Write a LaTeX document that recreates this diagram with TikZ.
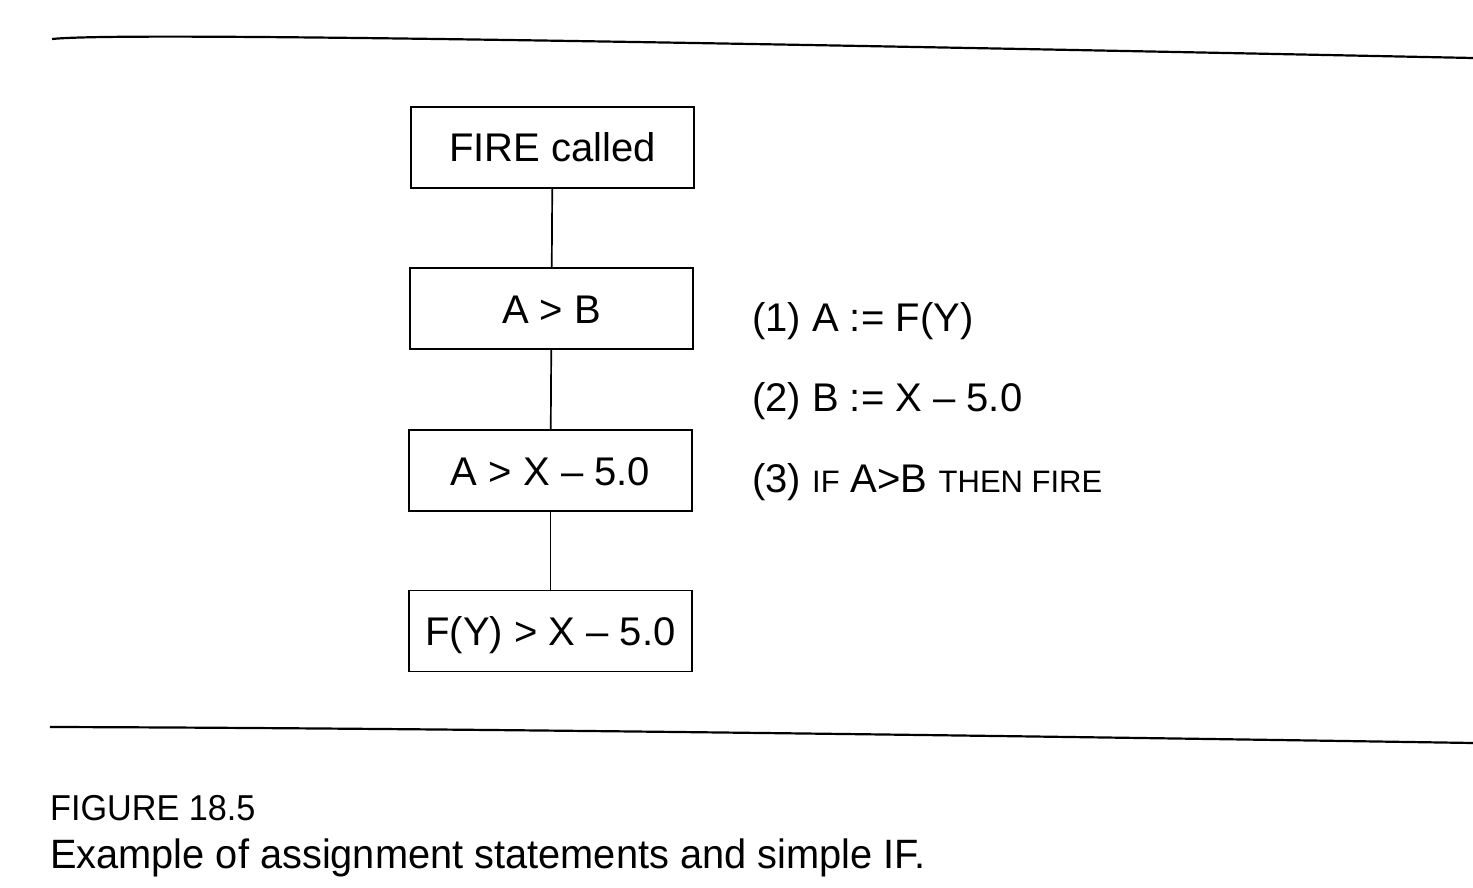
\documentclass[tikz,border=0pt]{standalone}
\usepackage{fontspec}
\setmainfont{Liberation Sans}
\newcommand\dfont{\fontsize{40}{48}\selectfont}
\newcommand\sfont{\fontsize{31}{36}\selectfont}
\newcommand\capfontA{\fontsize{36}{42}\selectfont}
\newcommand\capfontB{\fontsize{41}{46}\selectfont}
\begin{document}
\begin{tikzpicture}[x=1pt,y=-1pt,
  box/.style={draw,line width=1.9pt,minimum width=283pt,minimum height=81pt,inner sep=0pt,font=\dfont,text height=29pt,text depth=0pt},
  conn/.style={line width=1.7pt},
  rulel/.style={line width=2.2pt},
  lbl/.style={anchor=base west,inner sep=0pt,font=\dfont},
  captext/.style={anchor=base west,inner sep=0pt}]
\useasboundingbox (0,0) rectangle (1473,888);
\fill[white] (0,0) rectangle (1473,888);
% rules
\coordinate (t1) at (52,39);
\coordinate (t2) at (1473,58);
\draw[rulel] (t1) .. controls (110,33) and (500,38) .. (t2);
\coordinate (b1) at (50,727);
\coordinate (b2) at (1473,743);
\draw[rulel] (b1) .. controls (400,728) and (900,734) .. (b2);
% boxes
\node[box] (n1) at (552.5,147.5) {FIRE called};
\node[box] (n2) at (551.5,308.5) {A > B};
\node[box] (n3) at (550.5,470.5) {A > X – 5.0};
\node[box] (n4) at (550.5,631) {F(Y) > X – 5.0};
\draw[conn] (n1) -- (n2);
\draw[conn] (n2) -- (n3);
\draw[conn] (n3) -- (n4);
% statements
\node[lbl] (s1) at (752,331) {(1) A := F(Y)};
\node[lbl] (s2) at (752,411) {(2) B := X – 5.0};
\node[lbl] (s3) at (752,492) {(3) {\sfont IF} A>B {\sfont THEN FIRE}};
% caption
\node[captext,font=\capfontA,xscale=0.95] (c1) at (50,820) {FIGURE 18.5};
\node[captext,font=\capfontB,xscale=0.97] (c2) at (50,868) {Example of assignment statements and simple IF.};
\end{tikzpicture}
\end{document}
